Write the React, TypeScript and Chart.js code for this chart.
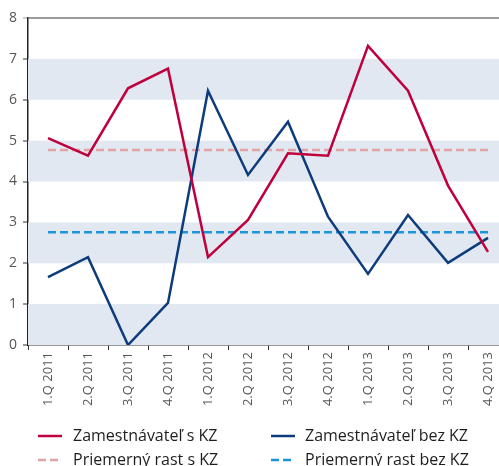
import React, { useEffect, useRef } from "react";
import { Chart, registerables } from "chart.js";

Chart.register(...registerables);

const categories = [
  "1.Q 2011", "2.Q 2011", "3.Q 2011", "4.Q 2011",
  "1.Q 2012", "2.Q 2012", "3.Q 2012", "4.Q 2012",
  "1.Q 2013", "2.Q 2013", "3.Q 2013", "4.Q 2013",
];
const withKZ = [5.06, 4.63, 6.28, 6.76, 2.15, 3.06, 4.69, 4.63, 7.32, 6.22, 3.9, 2.28];
const withoutKZ = [1.66, 2.15, 0.0, 1.03, 6.22, 4.16, 5.46, 3.14, 1.74, 3.18, 2.01, 2.62];
const avgWithKZ = [4.77, 4.77, 4.77, 4.77, 4.77, 4.77, 4.77, 4.77, 4.77, 4.77, 4.77, 4.77];
const avgWithoutKZ = [2.76, 2.76, 2.76, 2.76, 2.76, 2.76, 2.76, 2.76, 2.76, 2.76, 2.76, 2.76];
const seriesLabels = [
  "Zamestnávateľ s KZ",
  "Zamestnávateľ bez KZ",
  "Priemerný rast s KZ",
  "Priemerný rast bez KZ",
];
const bandRanges: [number, number][] = [[0, 1], [2, 3], [4, 5], [6, 7]];
const yMin = 0;
const yMax = 8;

const FONT = "'Open Sans', sans-serif";

const bandsPlugin = {
  id: "bands",
  beforeDatasetsDraw(chart: any) {
    const { ctx, chartArea, scales } = chart;
    const y = scales.y;
    ctx.save();
    ctx.fillStyle = "#e1e8f2";
    for (const [a, b] of bandRanges) {
      const y1 = y.getPixelForValue(b);
      const y2 = y.getPixelForValue(a);
      ctx.fillRect(chartArea.left, y1, chartArea.right - chartArea.left, y2 - y1);
    }
    ctx.restore();
  },
};

const legendPlugin = {
  id: "customLegend",
  afterDraw(chart: any) {
    const { ctx } = chart;
    const order = [0, 1, 2, 3];
    const cols = [
      { lx: 38, tx: 73 },
      { lx: 271, tx: 305 },
    ];
    const rows = [436, 460];
    ctx.save();
    ctx.font = "16px " + FONT;
    ctx.textBaseline = "middle";
    order.forEach((di, i) => {
      const ds = chart.data.datasets[di];
      const c = cols[i % 2];
      const ry = rows[Math.floor(i / 2)];
      ctx.strokeStyle = ds.borderColor;
      ctx.lineWidth = 2.5;
      ctx.setLineDash(ds.borderDash || []);
      ctx.beginPath();
      ctx.moveTo(c.lx, ry);
      ctx.lineTo(c.lx + 24, ry);
      ctx.stroke();
      ctx.setLineDash([]);
      ctx.fillStyle = "#1e1e1e";
      ctx.fillText(ds.label, c.tx, ry);
    });
    ctx.restore();
  },
};

export default function App() {
  const ref = useRef<HTMLCanvasElement>(null);
  useEffect(() => {
    if (!ref.current) return;
    const chart = new Chart(ref.current, {
      type: "line",
      data: {
        labels: categories,
        datasets: [
          {
            label: seriesLabels[0],
            data: withKZ,
            borderColor: "#c0003c",
            borderWidth: 2.5,
            pointRadius: 0,
            tension: 0,
          },
          {
            label: seriesLabels[1],
            data: withoutKZ,
            borderColor: "#0d3b7c",
            borderWidth: 2.5,
            pointRadius: 0,
            tension: 0,
          },
          {
            label: seriesLabels[2],
            data: avgWithKZ,
            borderColor: "#e3a2a4",
            borderWidth: 2.5,
            borderDash: [8, 4],
            pointRadius: 0,
            tension: 0,
          },
          {
            label: seriesLabels[3],
            data: avgWithoutKZ,
            borderColor: "#1a96d8",
            borderWidth: 2.5,
            borderDash: [8, 4],
            pointRadius: 0,
            tension: 0,
          },
        ],
      },
      options: {
        animation: false,
        responsive: true,
        maintainAspectRatio: false,
        layout: { padding: { top: 18, right: 12, bottom: 0, left: 0 } },
        plugins: {
          legend: { display: false },
          tooltip: { enabled: false },
        },
        scales: {
          x: {
            type: "category",
            offset: true,
            afterFit(s: any) {
              s.height = 121;
            },
            grid: {
              display: true,
              offset: true,
              color: "transparent",
              tickColor: "#333",
              tickLength: 5,
              drawOnChartArea: false,
            },
            border: { display: true, color: "#333", width: 1.5 },
            ticks: {
              minRotation: 90,
              maxRotation: 90,
              autoSkip: false,
              padding: 2,
              color: "#555",
              font: { family: FONT, size: 13 },
            },
          },
          y: {
            min: yMin,
            max: yMax,
            afterFit(s: any) {
              s.width = 28;
            },
            grid: {
              color: (c: any) => (c.tick && c.tick.value === 8 ? "#9a9a9a" : "transparent"),
              tickColor: (c: any) => (c.tick && c.tick.value === 8 ? "#9a9a9a" : "#333"),
              lineWidth: 2,
              tickWidth: 1,
              tickLength: 5,
            },
            border: { display: true, color: "#222", width: 1.5 },
            ticks: {
              stepSize: 1,
              padding: 6,
              color: "#555",
              font: { family: FONT, size: 14 },
            },
          },
        },
      },
      plugins: [bandsPlugin, legendPlugin],
    });
    return () => chart.destroy();
  }, []);
  return (
    <div style={{ position: "absolute", left: 0, top: 0, width: 499, height: 466, overflow: "hidden" }}>
      <div style={{ position: "relative", width: 520, height: 466 }}>
        <canvas ref={ref} />
      </div>
    </div>
  );
}
